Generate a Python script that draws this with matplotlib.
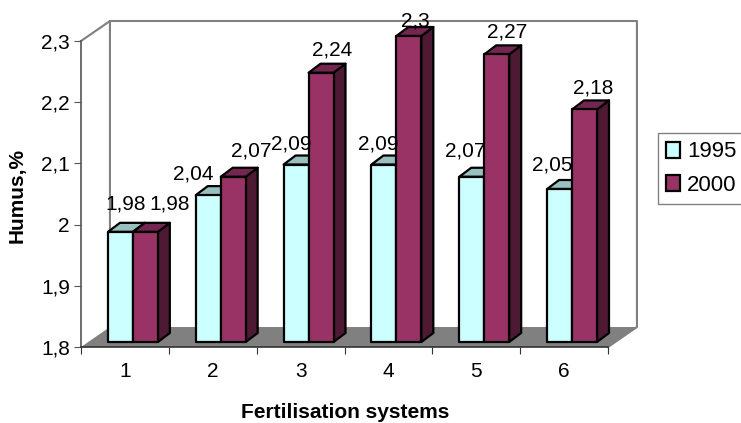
import matplotlib
matplotlib.use('Agg')
import matplotlib.pyplot as plt
from matplotlib.patches import Polygon, Rectangle

plt.rcParams['font.family'] = 'Liberation Sans'
plt.rcParams['font.size'] = 15

categories = ['1', '2', '3', '4', '5', '6']
series_names = ['1995', '2000']
values_1995 = [1.98, 2.04, 2.09, 2.09, 2.07, 2.05]
values_2000 = [1.98, 2.07, 2.24, 2.30, 2.27, 2.18]
labels_1995 = ['1,98', '2,04', '2,09', '2,09', '2,07', '2,05']
labels_2000 = ['1,98', '2,07', '2,24', '2,3', '2,27', '2,18']
y_ticks = [1.8, 1.9, 2.0, 2.1, 2.2, 2.3]
y_tick_labels = ['1,8', '1,9', '2', '2,1', '2,2', '2,3']

# label nudges in pixels, the original has them placed by hand
nudge_1995 = [(5, 28), (-15, 21), (-5, 21), (-6, 21), (-7, 26), (-7, 24)]
nudge_2000 = [(24, 28), (18, 26), (11, 23), (6, 15), (10, 22), (9, 21)]

colors = {'1995': ('#CCFFFF', '#99BFBF', '#7FA0A0'), '2000': ('#993366', '#732650', '#4D1933')}

fig = plt.figure(figsize=(7.41, 4.23), dpi=100)
ax = fig.add_axes([81 / 741, 1 - 347 / 423, 527 / 741, 306 / 423])
ax.set_xlim(0, 6)
ax.set_ylim(1.8, 2.3)

# pseudo 3d depth, in data units
wall_dx = 29 / 88
wall_dy = 20 / 612
bar_dx = 12 / 88
bar_dy = 9 / 612
bar_w = 25 / 88
bar_lift = 5 / 612
bar_base = 1.8 + bar_lift
bar_start = 27 / 88

x0, x1, y0, y1 = 0, 6, 1.8, 2.3
ax.add_patch(Polygon([(x0, y0), (x1, y0), (x1 + wall_dx, y0 + wall_dy), (x0 + wall_dx, y0 + wall_dy)],
                     facecolor='#808080', edgecolor='none', clip_on=False, zorder=1))
ax.plot([x0, x0 + wall_dx, x0 + wall_dx], [y1, y1 + wall_dy, y0 + wall_dy], color='#808080', lw=1.5,
        clip_on=False, zorder=1)
ax.plot([x0 + wall_dx, x1 + wall_dx, x1 + wall_dx, x1], [y1 + wall_dy, y1 + wall_dy, y0 + wall_dy, y0],
        color='#808080', lw=1.5, clip_on=False, zorder=1)


def draw_bar(left, value, name):
    front, top, side = colors[name]
    right = left + bar_w
    value = value + bar_lift
    kw = dict(edgecolor='black', linewidth=1.6, joinstyle='round', clip_on=False, zorder=3)
    ax.add_patch(Polygon([(right, bar_base), (right + bar_dx, bar_base + bar_dy),
                          (right + bar_dx, value + bar_dy), (right, value)], facecolor=side, **kw))
    ax.add_patch(Polygon([(left, value), (left + bar_dx, value + bar_dy),
                          (right + bar_dx, value + bar_dy), (right, value)], facecolor=top, **kw))
    ax.add_patch(Rectangle((left, bar_base), bar_w, value - bar_base, facecolor=front, **kw))


for i in range(len(categories)):
    left = i + bar_start
    draw_bar(left, values_1995[i], '1995')
    draw_bar(left + bar_w, values_2000[i], '2000')
    for j, (val, txt, nudge) in enumerate([(values_1995[i], labels_1995[i], nudge_1995[i]),
                                           (values_2000[i], labels_2000[i], nudge_2000[i])]):
        ax.annotate(txt, (left + bar_w * (j + 0.5), val + bar_lift), xytext=(nudge[0] * 0.72, nudge[1] * 0.72),
                    textcoords='offset points', ha='center', va='center', fontsize=15, zorder=5,
                    annotation_clip=False)

ax.spines['top'].set_visible(False)
ax.spines['right'].set_visible(False)
ax.spines['left'].set_color('#555555')
ax.spines['bottom'].set_color('#333333')
ax.spines['left'].set_linewidth(1.2)
ax.spines['bottom'].set_linewidth(1.2)
ax.patch.set_alpha(0)

ax.set_yticks(y_ticks)
ax.set_yticklabels(y_tick_labels)
ax.set_xticks(range(7))
ax.set_xticklabels([])
ax.set_xticks([i + 0.5 for i in range(6)], minor=True)
ax.set_xticklabels(categories, minor=True)
ax.tick_params(axis='x', which='major', length=5, color='#333333')
ax.tick_params(axis='x', which='minor', length=0, pad=11)
ax.tick_params(axis='y', length=5, color='#555555', pad=3)

fig.text(17 / 741, 1 - 195 / 423, 'Humus,%', rotation=90, ha='center', va='center',
         fontsize=15, fontweight='bold')
fig.text(345 / 741, 1 - 412 / 423, 'Fertilisation systems', ha='center', va='center',
         fontsize=15, fontweight='bold')

handles = [Rectangle((0, 0), 1, 1, facecolor=colors[n][0], edgecolor='black', linewidth=1.6) for n in series_names]
leg = fig.legend(handles, series_names, loc='upper left', bbox_to_anchor=(658 / 741, 1 - 133 / 423),
                 fancybox=False, framealpha=1, edgecolor='#808080', fontsize=16,
                 handlelength=0.62, handleheight=0.75, handletextpad=0.3, borderpad=0.38,
                 borderaxespad=0, labelspacing=0.55)
leg.get_frame().set_linewidth(1)

fig.savefig('out.png', dpi=100)
